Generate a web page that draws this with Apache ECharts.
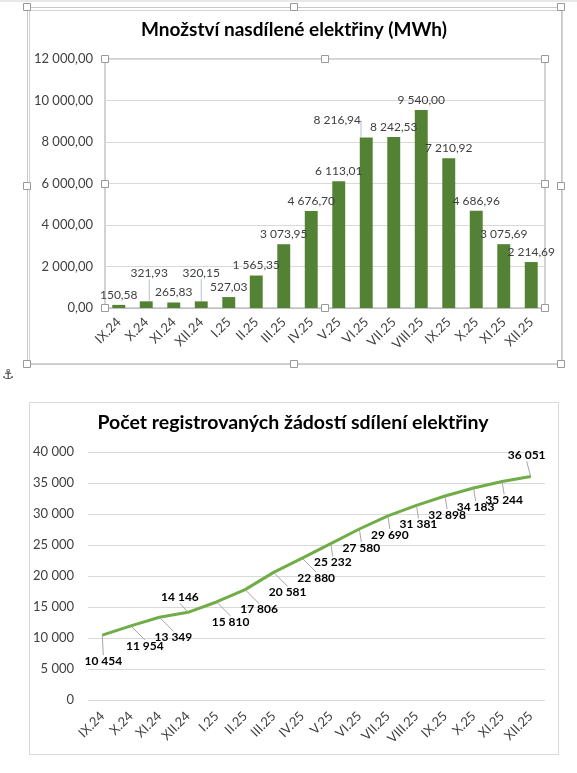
<!DOCTYPE html>
<html>
<head>
<meta charset="utf-8">
<script src="https://cdn.jsdelivr.net/npm/echarts@6/dist/echarts.min.js"></script>
<style>
html, body { margin: 0; padding: 0; background: #fff; }
#chart { width: 577px; height: 773px; }
</style>
</head>
<body>
<div id="chart"></div>
<script>
// data
var months = ['IX.24', 'X.24', 'XI.24', 'XII.24', 'I.25', 'II.25', 'III.25', 'IV.25',
              'V.25', 'VI.25', 'VII.25', 'VIII.25', 'IX.25', 'X.25', 'XI.25', 'XII.25'];
var energyMWh = [150.58, 321.93, 265.83, 320.15, 527.03, 1565.35, 3073.95, 4676.70,
                 6113.01, 8216.94, 8242.53, 9540.00, 7210.92, 4686.96, 3075.69, 2214.69];
var requests = [10454, 11954, 13349, 14146, 15810, 17806, 20581, 22880,
                25232, 27580, 29690, 31381, 32898, 34183, 35244, 36051];
var energyTicks = [0, 2000, 4000, 6000, 8000, 10000, 12000];
var requestTicks = [0, 5000, 10000, 15000, 20000, 25000, 30000, 35000, 40000];

var FONT = 'Lato';

// cislo po cesku: 12 000,00
function czNum(v, dec) {
    var p = Number(v).toFixed(dec).split('.');
    p[0] = p[0].replace(/\B(?=(\d{3})+(?!\d))/g, ' ');
    return dec ? p[0] + ',' + p[1] : p[0];
}

// popisky, ktere jsou v Excelu rucne posunute
var barLabelShift = { 1: [3, -18], 3: [0, -18], 9: [-29, -7] };
function lineLabelOffset(i) {
    if (i === 0) return [1, 26];
    if (i === 3) return [-8, -15];
    if (i === months.length - 1) return [-4, -21];
    if (i >= 1 && i <= 7) return [14, 20];
    return [2, 19];
}

function initCharts() {
    var myChart = echarts.init(document.getElementById('chart'), null, { renderer: 'canvas' });

    // ramecky a uchopovaci ctverecky (jen vzhled)
    var gfx = [];
    gfx.push({ type: 'line', shape: { x1: 0, y1: 1, x2: 577, y2: 1 }, style: { stroke: '#e8e8e8', lineWidth: 2 } });
    gfx.push({ type: 'rect', shape: { x: 27.5, y: 7.5, width: 534, height: 357 }, style: { fill: null, stroke: '#c8c8c8', lineWidth: 1 } });
    gfx.push({ type: 'rect', shape: { x: 29.5, y: 10.5, width: 533, height: 353 }, style: { fill: null, stroke: '#d4d4d4', lineWidth: 1 } });
    gfx.push({ type: 'rect', shape: { x: 29.5, y: 402.5, width: 529, height: 352 }, style: { fill: null, stroke: '#d9d9d9', lineWidth: 1 } });
    var handles = [[27, 7], [294, 7], [561, 7], [27, 186], [561, 186], [27, 364], [294, 364], [561, 364],
                   [105, 59], [325, 59], [545, 59], [105, 184], [545, 184], [105, 308], [325, 308], [545, 308]];
    handles.forEach(function (h) {
        gfx.push({ type: 'rect', z: 100, shape: { x: h[0] - 3.5, y: h[1] - 3.5, width: 7, height: 7 },
                   style: { fill: '#fff', stroke: '#9a9a9a', lineWidth: 1 } });
    });
    gfx.push({ type: 'text', x: 2, y: 368, style: { text: '\u2693', fontFamily: 'DejaVu Sans', fontSize: 14, fill: '#444' } });

    var option = {
        animation: false,
        backgroundColor: '#fff',
        graphic: gfx,
        title: [
            {
                text: 'Množství nasdílené elektřiny (MWh)',
                left: 294, top: 20, textAlign: 'center', padding: 0,
                textStyle: { fontFamily: FONT, fontWeight: 'bold', fontSize: 19, color: '#000' }
            },
            {
                text: 'Počet registrovaných žádostí sdílení elektřiny',
                left: 293, top: 413, textAlign: 'center', padding: 0,
                textStyle: { fontFamily: FONT, fontWeight: 'bold', fontSize: 19.5, color: '#000' }
            }
        ],
        grid: [
            { left: 105, top: 59, width: 440, height: 249, show: true, borderColor: '#a6a6a6', borderWidth: 1 },
            { left: 88, top: 452, width: 457, height: 248 }
        ],
        xAxis: [
            {
                gridIndex: 0, type: 'category', data: months,
                axisTick: { show: false },
                axisLine: { lineStyle: { color: '#bfbfbf' } },
                axisLabel: { rotate: 45, interval: 0, margin: 12, fontSize: 13, color: '#404040', fontFamily: FONT }
            },
            {
                gridIndex: 1, type: 'category', data: months,
                axisTick: { show: false },
                axisLine: { show: false },
                axisLabel: { rotate: 45, interval: 0, margin: 14, fontSize: 13, color: '#404040', fontFamily: FONT }
            }
        ],
        yAxis: [
            {
                gridIndex: 0, type: 'value',
                min: energyTicks[0], max: energyTicks[energyTicks.length - 1],
                interval: energyTicks[1] - energyTicks[0],
                axisLine: { show: false }, axisTick: { show: false },
                splitLine: { lineStyle: { color: '#d9d9d9' } },
                axisLabel: {
                    margin: 12, fontSize: 13, color: '#404040', fontFamily: FONT,
                    formatter: function (v) { return czNum(v, 2); }
                }
            },
            {
                gridIndex: 1, type: 'value',
                min: requestTicks[0], max: requestTicks[requestTicks.length - 1],
                interval: requestTicks[1] - requestTicks[0],
                axisLine: { show: false }, axisTick: { show: false },
                splitLine: { lineStyle: { color: '#d9d9d9' } },
                axisLabel: {
                    margin: 14, fontSize: 13, color: '#404040', fontFamily: FONT,
                    formatter: function (v) { return czNum(v, 0); }
                }
            }
        ],
        series: [
            {
                name: 'MWh',
                type: 'bar',
                xAxisIndex: 0, yAxisIndex: 0,
                barWidth: '47%',
                itemStyle: { color: '#548235' },
                data: energyMWh.map(function (v, i) {
                    return barLabelShift[i] ? { value: v, labelLine: { show: true } } : v;
                }),
                label: {
                    show: true, position: 'top', distance: 4,
                    fontSize: 12, color: '#404040', fontFamily: FONT,
                    formatter: function (p) { return czNum(p.value, 2); }
                },
                labelLine: { show: false, lineStyle: { color: '#b4c0d0', width: 1 } },
                labelLayout: function (p) {
                    var s = barLabelShift[p.dataIndex];
                    return s ? { dx: s[0], dy: s[1] } : {};
                }
            },
            {
                name: 'Žádosti',
                type: 'line',
                xAxisIndex: 1, yAxisIndex: 1,
                data: requests,
                symbol: 'circle', symbolSize: 1, showSymbol: true,
                lineStyle: { color: '#70AD47', width: 3 },
                itemStyle: { color: '#70AD47' },
                label: {
                    show: true, fontSize: 12, fontWeight: 'bold', color: '#000', fontFamily: FONT,
                    formatter: function (p) { return czNum(p.value, 0); }
                },
                labelLine: { show: true, lineStyle: { color: '#a6a6a6', width: 1 } },
                labelLayout: function (p) {
                    var o = lineLabelOffset(p.dataIndex);
                    var r = p.rect;
                    return {
                        x: r.x + r.width / 2 + o[0],
                        y: r.y + r.height / 2 + o[1],
                        align: 'center', verticalAlign: 'middle'
                    };
                }
            }
        ]
    };
    myChart.setOption(option);
}

initCharts();
</script>
</body>
</html>
